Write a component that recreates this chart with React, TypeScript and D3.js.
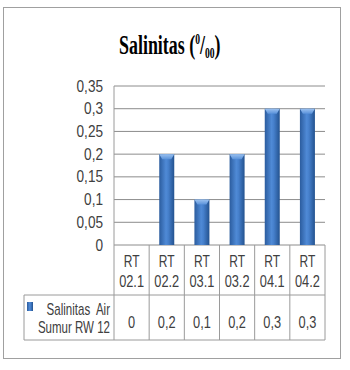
import * as d3 from "d3";
import React from "react";

const categories = ["RT 02.1", "RT 02.2", "RT 03.1", "RT 03.2", "RT 04.1", "RT 04.2"];
const values = [0, 0.2, 0.1, 0.2, 0.3, 0.3];
const yTicks = [0, 0.05, 0.1, 0.15, 0.2, 0.25, 0.3, 0.35];
const seriesName = ["Salinitas  Air", "Sumur RW 12"];

const W = 350;
const H = 370;
const fmt = (v: number) => String(v).replace(".", ",");
const labelFont = "'Liberation Sans', Arial, sans-serif";
const fs = 16;

// narrow label: regular font squeezed horizontally (the original is tall and narrow)
const T = ({ x, y, anchor = "middle", sx = 0.8, children }: { x: number; y: number; anchor?: string; sx?: number; children: React.ReactNode }) => (
  <text
    transform={`translate(${x},${y}) scale(${sx},1)`}
    textAnchor={anchor}
    fontFamily={labelFont}
    fontSize={fs}
    fill="#404040"
    style={{ whiteSpace: "pre" }}
  >
    {children}
  </text>
);

export default function App() {
  const x = d3.scaleBand<string>().domain(categories).range([114, 325]);
  const y = d3.scaleLinear().domain([0, 0.35]).range([245, 86]);
  const barW = 15;
  const rowBottom = 295;
  const legendBottom = 340;

  return (
    <svg width={W} height={H} style={{ position: "absolute", left: 0, top: 0, background: "#fff" }}>
      <defs>
        <linearGradient id="bar" x1="0" x2="1" y1="0" y2="0">
          <stop offset="0" stopColor="#2b5c9e" />
          <stop offset="0.45" stopColor="#4f8ad6" />
          <stop offset="0.6" stopColor="#4680cc" />
          <stop offset="1" stopColor="#23528f" />
        </linearGradient>
        <linearGradient id="cap" x1="0" x2="0" y1="0" y2="1">
          <stop offset="0" stopColor="#9cc2f0" />
          <stop offset="1" stopColor="#5a92da" />
        </linearGradient>
      </defs>
      <rect x={3.5} y={7.5} width={337} height={351} fill="#fff" stroke="#a0a0a0" />

      {/* title */}
      <text
        x={0}
        y={0}
        transform="translate(119,54) scale(0.64,1)"
        fontFamily="'Liberation Serif', serif"
        fontWeight="bold"
        fontSize={28}
        fill="#000"
      >
        Salinitas (
        <tspan fontSize={15} dy={-10}>0</tspan>
        <tspan dy={10}>/</tspan>
        <tspan fontSize={15} dy={4}>00</tspan>
        <tspan dy={-4}>)</tspan>
      </text>

      {/* gridlines and y labels */}
      {yTicks.map((t) => (
        <g key={t}>
          <line x1={114} x2={325} y1={y(t)} y2={y(t)} stroke="#8c8c8c" strokeWidth={1} />
          <T x={103} y={y(t) + 5.5} anchor="end" sx={0.85}>{fmt(t)}</T>
        </g>
      ))}

      {/* bars */}
      {categories.map((c, i) => {
        const bx = x(c)! + (x.bandwidth() - barW) / 2;
        const by = y(values[i]);
        const h = y(0) - by;
        if (h <= 0) return null;
        return (
          <g key={c}>
            <rect x={bx} y={by} width={barW} height={h} fill="url(#bar)" />
            <path
              d={`M${bx},${by} L${bx + barW},${by} L${bx + barW - 3},${by + 5} L${bx + 3},${by + 5} Z`}
              fill="url(#cap)"
            />
          </g>
        );
      })}

      {/* data table */}
      <g stroke="#9a9a9a" strokeWidth={1} fill="none">
        <line x1={114} x2={114} y1={86} y2={legendBottom} />
        {categories.map((c) => (
          <line key={c} x1={x(c)! + x.bandwidth()} x2={x(c)! + x.bandwidth()} y1={245} y2={legendBottom} />
        ))}
        <line x1={24} x2={325} y1={rowBottom} y2={rowBottom} />
        <line x1={24} x2={325} y1={legendBottom} y2={legendBottom} />
        <line x1={24} x2={24} y1={rowBottom} y2={legendBottom} />
      </g>
      {categories.map((c, i) => {
        const cx = x(c)! + x.bandwidth() / 2;
        const [a, b] = c.split(" ");
        return (
          <g key={c}>
            <T x={cx} y={267} sx={0.75}>{a}</T>
            <T x={cx} y={287}>{b}</T>
            <T x={cx} y={328}>{fmt(values[i])}</T>
          </g>
        );
      })}
      <rect x={27} y={302} width={6} height={9} fill="url(#bar)" />
      <T x={110} y={315} anchor="end" sx={0.72}>{seriesName[0]}</T>
      <T x={110} y={333} anchor="end" sx={0.72}>{seriesName[1]}</T>
    </svg>
  );
}
